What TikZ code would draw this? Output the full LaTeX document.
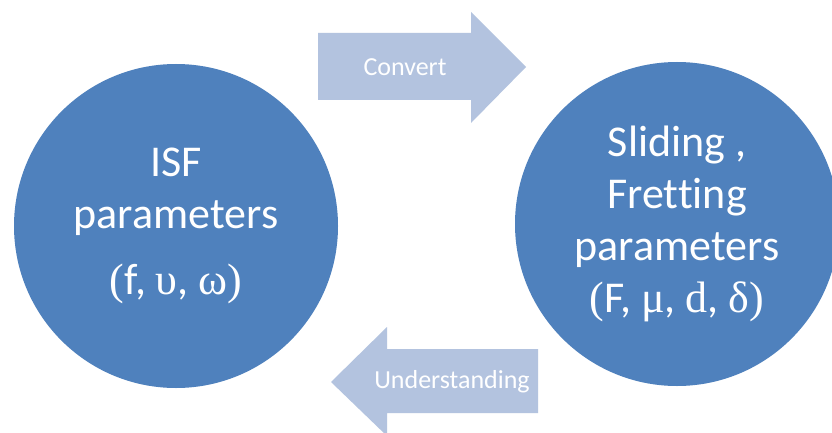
\documentclass[tikz,border=0pt]{standalone}
\usepackage{fontspec}
\setmainfont{Carlito}[Ligatures={NoCommon}]
\newfontfamily\grk{Liberation Serif}
\definecolor{circblue}{HTML}{4F81BD}
\definecolor{arrblue}{HTML}{B3C3DF}
\begin{document}
\begin{tikzpicture}[x=1pt,y=-1pt,
  bubble/.style={circle,fill=circblue,draw=none,minimum size=324pt,inner sep=0pt,
    text=white,align=center,font=\fontsize{44}{52}\selectfont},
  arrowlabel/.style={text=white,font=\fontsize{26}{30}\selectfont,inner sep=0pt}]
\useasboundingbox (0,0) rectangle (832,433);
\clip (0,0) rectangle (832,433);
\fill[white] (0,0) rectangle (832,433);
% arrows
\fill[arrblue] (318,33) -- (471,33) -- (471,12) -- (526,67) -- (471,123) -- (471,100) -- (318,100) -- cycle;
\fill[arrblue] (538,349) -- (387,349) -- (387,327) -- (331,382) -- (387,436) -- (387,413) -- (538,413) -- cycle;
\node[arrowlabel] (conv) at (405,67) {Convert};
\node[arrowlabel] (und) at (452,382) {Understanding};
% circles
\node[bubble] (isf) at (176,226) {ISF\\parameters\\[14pt]{\grk(}f, {\grk υ}, {\grk ω}{\grk)}};
\node[bubble] (slide) at (677,224) {Sliding ,\\Fretting\\parameters\\{\grk(}F, {\grk μ}, {\grk d}, {\grk δ}{\grk)}};
\end{tikzpicture}
\end{document}
